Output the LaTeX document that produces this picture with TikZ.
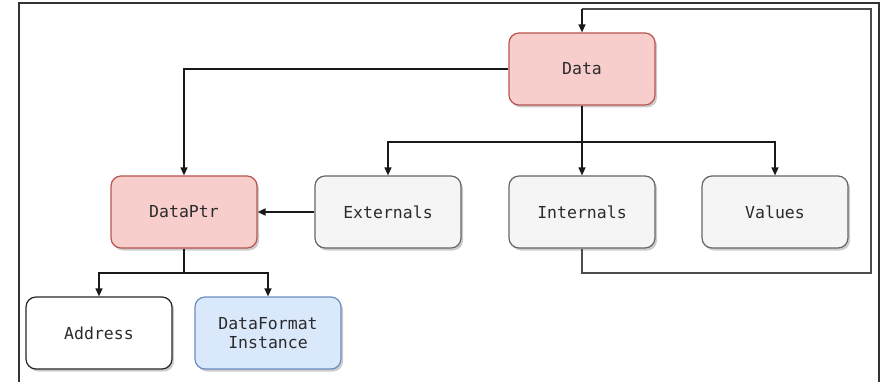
\documentclass[tikz,border=0pt]{standalone}
\usepackage{fontspec}
\setmonofont{DejaVu Sans Mono}
\usetikzlibrary{arrows.meta,shadows}
\definecolor{redfill}{HTML}{F8CECC}
\definecolor{redline}{HTML}{B85450}
\definecolor{grayfill}{HTML}{F5F5F5}
\definecolor{grayline}{HTML}{666666}
\definecolor{bluefill}{HTML}{DAE8FC}
\definecolor{blueline}{HTML}{6C8EBF}
\definecolor{txt}{HTML}{2B2B2B}
\tikzset{
  box/.style={draw, rounded corners=10pt, minimum width=146pt, minimum height=72pt,
    line width=1.2pt, font=\ttfamily\fontsize{16.5}{19}\selectfont, text=txt, align=center,
    drop shadow={shadow xshift=2pt, shadow yshift=-2.5pt, opacity=0.4, fill=gray}},
  redbox/.style={box, fill=redfill, draw=redline},
  graybox/.style={box, fill=grayfill, draw=grayline},
  whitebox/.style={box, fill=white, draw=black!85},
  bluebox/.style={box, fill=bluefill, draw=blueline},
  link/.style={draw=black!90, line width=1.3pt, -{Triangle[length=8pt,width=7pt]}},
  plain/.style={draw=black!90, line width=1.3pt},
  loopline/.style={draw=black!70, line width=1.5pt},
}
\begin{document}
\begin{tikzpicture}[x=1pt,y=-1pt]
  \useasboundingbox (0,0) rectangle (883,382);
  % outer frame, open at the bottom
  \draw[draw=black!80, line width=1.3pt] (19,382) -- (19,3) -- (879,3) -- (879,382);

  \node[redbox]   (data)    at (582,69)  {Data};
  \node[redbox]   (ptr)     at (184,212) {DataPtr};
  \node[graybox]  (ext)     at (388,212) {Externals};
  \node[graybox]  (int)     at (582,212) {Internals};
  \node[graybox]  (val)     at (775,212) {Values};
  \node[whitebox] (addr)    at (99,333)  {Address};
  \node[bluebox]  (fmt)     at (268,333) {DataFormat\\Instance};

  % Data to DataPtr
  \draw[link] (data.west) -| (ptr.north);
  % Data to its three parts
  \coordinate (split) at (582,142);
  \draw[plain] (data.south) -- (split);
  \draw[link] (split) -| (ext.north);
  \draw[link] (split) -- (int.north);
  \draw[link] (split) -| (val.north);
  % Externals refer to DataPtr
  \draw[link, line width=1.8pt] (ext.west) -- (ptr.east);
  % DataPtr to its parts
  \coordinate (split2) at (184,273);
  \draw[plain] (ptr.south) -- (split2);
  \draw[link] (split2) -| (addr.north);
  \draw[link] (split2) -| (fmt.north);
  % Internals loop back to Data
  \coordinate (c1) at (582,273);
  \coordinate (c2) at (871,273);
  \coordinate (c3) at (871,9);
  \coordinate (c4) at (582,9);
  \draw[loopline] (int.south) -- (c1) -- (c2) -- (c3) -- (c4);
  \draw[link] (c4) -- (data.north);
\end{tikzpicture}
\end{document}
